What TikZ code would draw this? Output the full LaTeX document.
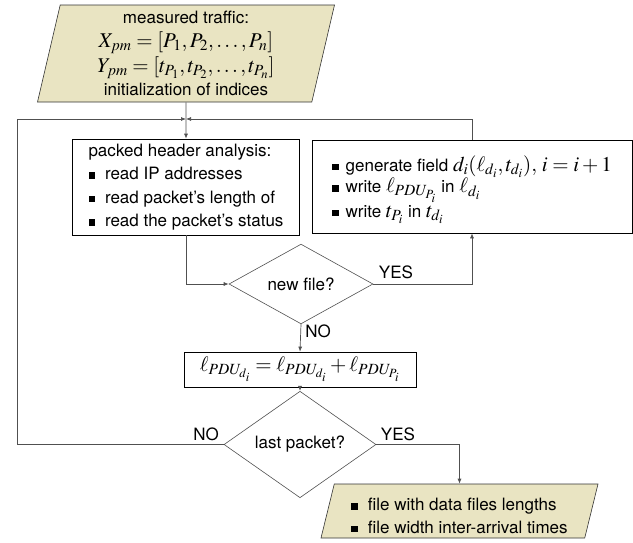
\documentclass[tikz,border=0pt]{standalone}
\usepackage{mathptmx}
\usepackage[no-math]{fontspec}
\setmainfont{TeX Gyre Heros}
\usetikzlibrary{shapes.geometric,arrows.meta}

\definecolor{iofill}{RGB}{233,228,194}
\definecolor{linegray}{RGB}{80,80,80}
\newcommand{\sqbul}[1][10pt]{\rule[0.8pt]{6.5pt}{6.5pt}\hspace{#1}}
\newcommand{\mth}[1]{{\fontsize{21}{21}\selectfont$#1$}}

\begin{document}
\begin{tikzpicture}[x=1pt,y=-1pt,
  every node/.style={font=\fontsize{17}{21}\selectfont},
  iobox/.style={trapezium, draw=black!80, fill=iofill, line width=0.6pt, trapezium stretches body, inner sep=0pt},
  procbox/.style={rectangle, draw=black, line width=0.7pt, inner sep=0pt, align=left},
  decision/.style={diamond, draw=linegray, line width=0.6pt, inner sep=0pt},
  flow/.style={draw=linegray, line width=0.7pt, -{Latex[length=5pt,width=4pt]}},
  tag/.style={inner sep=0pt}]
\useasboundingbox (0,0) rectangle (633,542);

%Shape: Parallelogram [input]
\node[iobox, trapezium left angle=75, trapezium right angle=105, minimum width=297pt, minimum height=97pt, align=center, font=\fontsize{17}{24}\selectfont] (input) at (186,53.5)
  {measured traffic:\\[0pt]
   \mth{X_{pm}=[P_1,P_2,\ldots,P_n]}\\[1pt]
   \mth{Y_{pm}=[t_{P_1},t_{P_2},\ldots,t_{P_n}]}\\[-1pt]
   initialization of indices};
%Shape: Rectangle [analysis]
\node[procbox, minimum width=227pt, minimum height=96pt, font=\fontsize{17}{23.5}\selectfont] (analysis) at (186,187)
  {packed header analysis:\\
   \sqbul read IP addresses\\
   \sqbul read packet's length of\\
   \sqbul read the packet's status};
%Shape: Rectangle [generate]
\node[procbox, minimum width=320pt, minimum height=93pt, font=\fontsize{17}{24.5}\selectfont] (generate) at (472,186.5)
  {\rule{0pt}{22pt}\sqbul[7pt]generate field \mth{d_i(\ell_{d_i},t_{d_i}),\, i=i+1}\\[-3pt]
   \sqbul[7pt]write \mth{\ell_{PDU_{P_i}}}\ in \mth{\ell_{d_i}}\\
   \sqbul[7pt]write \mth{t_{P_i}}\ in \mth{t_{d_i}}};
%Shape: Diamond [new file]
\node[decision, minimum width=144pt, minimum height=72pt] (newfile) at (301,284) {new file?};
%Shape: Rectangle [equation]
\node[procbox, minimum width=232pt, minimum height=35pt] (eqbox) at (300,369.5)
  {\mth{\ell_{PDU_{d_i}}=\ell_{PDU_{d_i}}+\ell_{PDU_{P_i}}}};
%Shape: Diamond [last packet]
\node[decision, minimum width=152pt, minimum height=75pt] (lastpkt) at (300,444.5) {last packet?};
%Shape: Parallelogram [output]
\node[iobox, trapezium left angle=73.5, trapezium right angle=106.5, minimum width=277pt, minimum height=54pt, align=left, font=\fontsize{17}{22.5}\selectfont] (output) at (459.5,511)
  {\rule{0pt}{22pt}\sqbul file with data files lengths\\
   \sqbul file width inter-arrival times};

% Text Node
\node[tag] (yes1) at (396,272) {YES};
\node[tag] (no1) at (318,331) {NO};
\node[tag] (no2) at (206,434) {NO};
\node[tag] (yes2) at (398,434) {YES};

% Joints of the loop
\coordinate (join) at (186,119);
\coordinate (loopleft) at (17,119);

%Straight Lines
\draw[flow] (input.south) -- (analysis.north);
\draw[flow] (analysis.south) |- (newfile.west);
\draw[flow] (newfile.east) -| (generate.south);
\draw[flow] (generate.north) |- (join);
\draw[flow] (newfile.south) -- (eqbox.north);
\draw[flow] (eqbox.south) -- (lastpkt.north);
\draw[flow] (lastpkt.west) -| (loopleft) -- (join);
\draw[flow] (lastpkt.east) -| (output.north);
\end{tikzpicture}
\end{document}
